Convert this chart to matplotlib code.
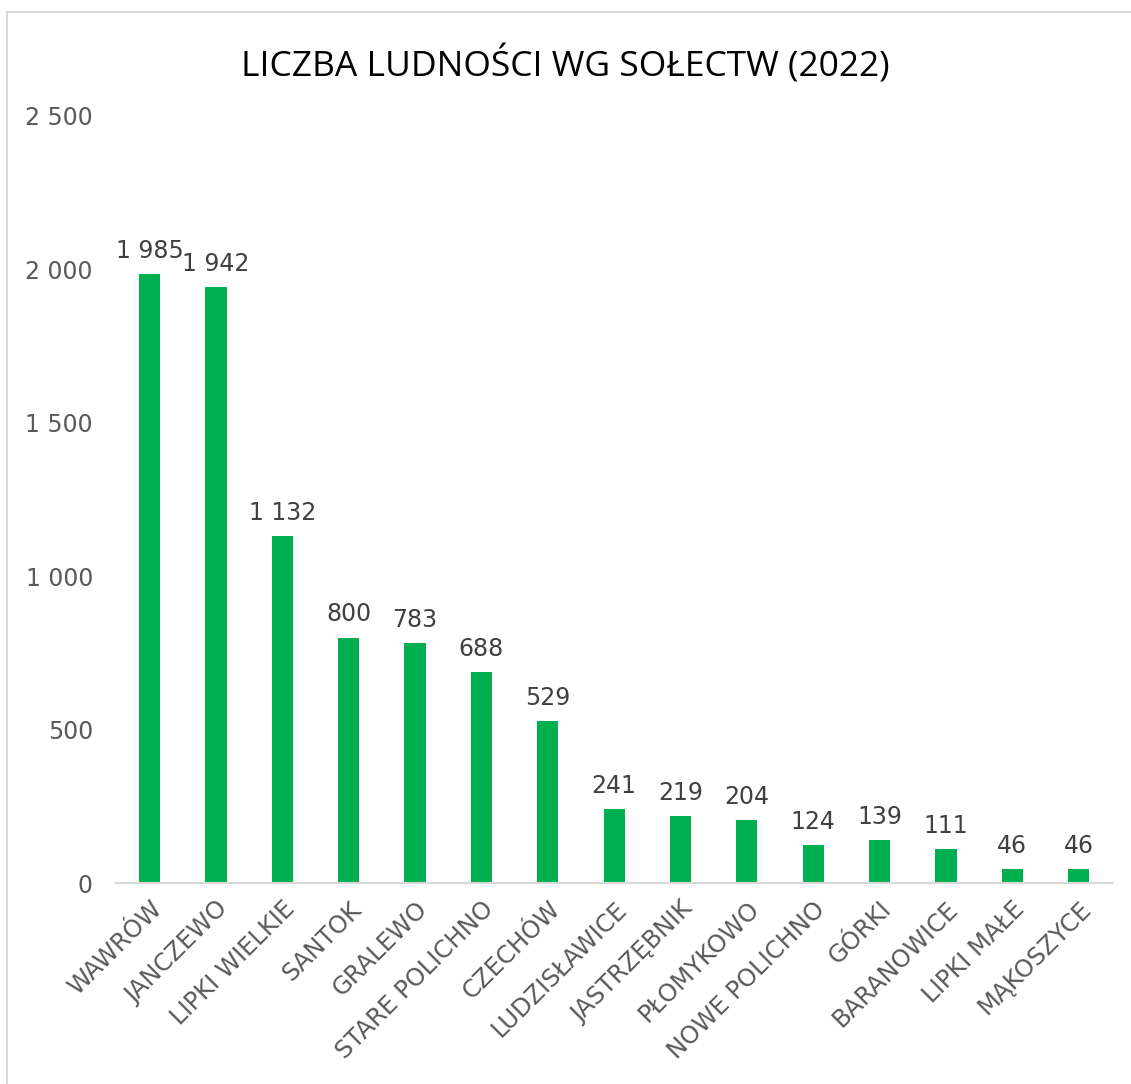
import matplotlib.pyplot as plt
from matplotlib.patches import Rectangle

villages = ['WAWRÓW', 'JANCZEWO', 'LIPKI WIELKIE', 'SANTOK', 'GRALEWO',
            'STARE POLICHNO', 'CZECHÓW', 'LUDZISŁAWICE', 'JASTRZĘBNIK',
            'PŁOMYKOWO', 'NOWE POLICHNO', 'GÓRKI', 'BARANOWICE',
            'LIPKI MAŁE', 'MĄKOSZYCE']
population = [1985, 1942, 1132, 800, 783, 688, 529, 241, 219, 204, 124, 139, 111, 46, 46]
yticks = [0, 500, 1000, 1500, 2000, 2500]


def fmt(v):
    return f'{v:,}'.replace(',', ' ')


plt.rcParams['font.family'] = ['DejaVu Sans']

fig = plt.figure(figsize=(11.31, 10.84), dpi=100)
ax = fig.add_axes([0.103, 0.1854, 0.880, 0.7076])

x = range(len(villages))
bars = ax.bar(x, population, width=0.32, color='#00B050')

for xi, v in zip(x, population):
    ax.annotate(fmt(v), (xi, v), xytext=(0, 8), textcoords='offset points',
                ha='center', va='bottom', fontsize=17, color='#404040')

ax.set_xlim(-0.5, len(villages) - 0.5)
ax.set_ylim(0, 2500)
ax.set_yticks(yticks)
ax.set_yticklabels([fmt(t) for t in yticks], fontsize=17, color='#595959')
ax.set_xticks(list(x))
ax.set_xticklabels(villages, rotation=45, ha='right', rotation_mode='anchor',
                   fontsize=17.5, color='#595959')
ax.tick_params(axis='y', length=0, pad=17)
ax.tick_params(axis='x', length=0, pad=10)

for s in ['top', 'right', 'left']:
    ax.spines[s].set_visible(False)
ax.spines['bottom'].set_color('#D9D9D9')
ax.spines['bottom'].set_linewidth(1.5)

fig.text(0.5, 0.940, 'LICZBA LUDNOŚCI WG SOŁECTW (2022)', ha='center', va='center',
         fontsize=25.5, color='black', family=['Open Sans', 'DejaVu Sans'])

fig.patches.append(Rectangle((0.0062, -0.1), 2, 1.089, transform=fig.transFigure,
                             fill=False, edgecolor='#D9D9D9', linewidth=1.5))

fig.savefig('out.png', dpi=100)
